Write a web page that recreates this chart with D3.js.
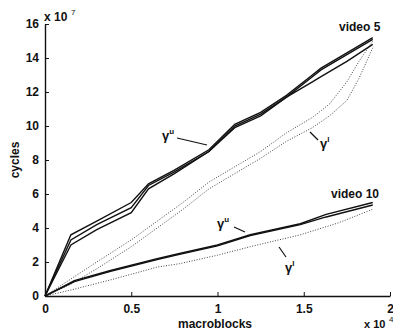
<!DOCTYPE html>
<html>
<head>
<meta charset="utf-8">
<script src="https://cdn.jsdelivr.net/npm/d3@7"></script>
<style>
  body { margin: 0; background: #fff; }
  svg text { font-family: "Liberation Sans", Arial, sans-serif; fill: #111; }
</style>
</head>
<body>
<div id="chart"></div>
<script>
// --- data (x in 10^4 macroblocks, y in 10^7 cycles) ---
const xTicks = [0, 0.5, 1, 1.5, 2];
const yTicks = [0, 2, 4, 6, 8, 10, 12, 14, 16];

const v5UpperX = [0, 0.15, 0.3, 0.5, 0.6, 0.75, 0.95, 1.1, 1.25, 1.4, 1.55, 1.6, 1.75, 1.9];
const v5UpperA = [0, 3.6, 4.4, 5.5, 6.6, 7.4, 8.6, 10.1, 10.8, 11.8, 13.0, 13.4, 14.3, 15.2];
const v5UpperB = [0, 3.3, 4.2, 5.2, 6.5, 7.3, 8.5, 10.0, 10.7, 11.7, 12.9, 13.3, 14.2, 15.1];
const v5UpperC = [0, 3.0, 3.9, 4.9, 6.3, 7.2, 8.5, 9.9, 10.6, 11.7, 12.6, 12.9, 13.8, 14.8];

const v5LowerX = [0, 0.15, 0.3, 0.5, 0.65, 0.8, 0.95, 1.1, 1.25, 1.4, 1.55, 1.65, 1.75, 1.82, 1.9];
const v5LowerA = [0, 1.0, 2.0, 3.3, 4.4, 5.5, 6.7, 7.6, 8.5, 9.6, 10.5, 11.3, 12.6, 13.8, 15.0];
const v5LowerB = [0, 0.7, 1.6, 2.9, 4.0, 5.1, 6.3, 7.2, 8.1, 9.1, 9.9, 10.6, 11.5, 12.8, 14.6];

const v10UpperX = [0, 0.17, 0.38, 0.65, 0.78, 1.0, 1.19, 1.48, 1.63, 1.9];
const v10UpperA = [0, 0.9, 1.5, 2.2, 2.5, 3.0, 3.6, 4.25, 4.8, 5.5];
const v10UpperB = [0, 0.85, 1.45, 2.15, 2.45, 2.95, 3.55, 4.2, 4.65, 5.35];

const v10LowerX = [0, 0.15, 0.4, 0.65, 0.78, 1.0, 1.19, 1.48, 1.7, 1.9];
const v10Lower  = [0, 0.35, 1.0, 1.7, 1.9, 2.4, 2.9, 3.6, 4.3, 5.1];

const width = 393, height = 333;
const svg = d3.select("#chart").append("svg")
  .attr("width", width).attr("height", height);

const x = d3.scaleLinear().domain([0, 2]).range([45, 390]);
const y = d3.scaleLinear().domain([0, 16]).range([296, 24]);

// axes (matlab style, inward ticks, left + bottom only)
const xAxis = svg.append("g")
  .attr("transform", `translate(0,${y(0)})`)
  .call(d3.axisBottom(x).tickValues(xTicks).tickSizeInner(-4).tickSizeOuter(0).tickPadding(8)
    .tickFormat(d => d));
const yAxis = svg.append("g")
  .attr("transform", `translate(${x(0)},0)`)
  .call(d3.axisLeft(y).tickValues(yTicks).tickSizeInner(-4).tickSizeOuter(0).tickPadding(6)
    .tickFormat(d => d));
[xAxis, yAxis].forEach(g => {
  g.select(".domain").attr("stroke", "#111").attr("stroke-width", 1.4);
  g.selectAll(".tick line").attr("stroke", "#111");
  g.selectAll(".tick text").attr("font-size", 12).attr("font-weight", "bold").attr("fill", "#111")
    .attr("font-family", "Liberation Sans, Arial, sans-serif");
});

const line = d3.line().x(d => x(d[0])).y(d => y(d[1]));
const zipPts = (xs, ys) => xs.map((v, i) => [v, ys[i]]);

function draw(xs, ys, solid) {
  svg.append("path")
    .datum(zipPts(xs, ys))
    .attr("d", line)
    .attr("fill", "none")
    .attr("stroke", solid ? "#111" : "#444")
    .attr("stroke-width", solid ? 1.4 : 1)
    .attr("stroke-dasharray", solid ? null : "1,1.6");
}

draw(v5LowerX, v5LowerA, false);
draw(v5LowerX, v5LowerB, false);
draw(v10LowerX, v10Lower, false);
draw(v5UpperX, v5UpperA, true);
draw(v5UpperX, v5UpperB, true);
draw(v5UpperX, v5UpperC, true);
draw(v10UpperX, v10UpperA, true);
draw(v10UpperX, v10UpperB, true);

// labels
const bold = sel => sel.attr("font-weight", "bold");
bold(svg.append("text").attr("x", 44).attr("y", 21).attr("font-size", 12).text("x 10"));
svg.append("text").attr("x", 71).attr("y", 15).attr("font-size", 8).text("7");
bold(svg.append("text").attr("x", 364).attr("y", 328).attr("font-size", 11).text("x 10"));
svg.append("text").attr("x", 389).attr("y", 322).attr("font-size", 8).text("4");
bold(svg.append("text").attr("x", 215).attr("y", 328).attr("font-size", 12)
  .attr("text-anchor", "middle").text("macroblocks"));
bold(svg.append("text").attr("transform", "translate(19,160) rotate(-90)")
  .attr("font-size", 12).attr("text-anchor", "middle").text("cycles"));

bold(svg.append("text").attr("x", 339).attr("y", 31).attr("font-size", 12).text("video 5"));
bold(svg.append("text").attr("x", 331).attr("y", 198).attr("font-size", 12).text("video 10"));

// gamma annotations with leader lines
const notes = [
  { t: "u", tx: 162, ty: 140, x1: 177, y1: 138, x2: 207, y2: 145 },
  { t: "l", tx: 320, ty: 148, x1: 310, y1: 132, x2: 318, y2: 140 },
  { t: "u", tx: 217, ty: 228, x1: 234, y1: 227, x2: 245, y2: 232 },
  { t: "l", tx: 285, ty: 272, x1: 279, y1: 247, x2: 286, y2: 257 }
];
notes.forEach(n => {
  svg.append("line").attr("x1", n.x1).attr("y1", n.y1).attr("x2", n.x2).attr("y2", n.y2)
    .attr("stroke", "#111").attr("stroke-width", 1.2);
  const t = svg.append("text").attr("x", n.tx).attr("y", n.ty).attr("font-size", 13)
    .attr("font-weight", "bold");
  t.append("tspan").text("γ");
  t.append("tspan").attr("dy", -6).attr("font-size", 8).text(n.t);
});
</script>
</body>
</html>
